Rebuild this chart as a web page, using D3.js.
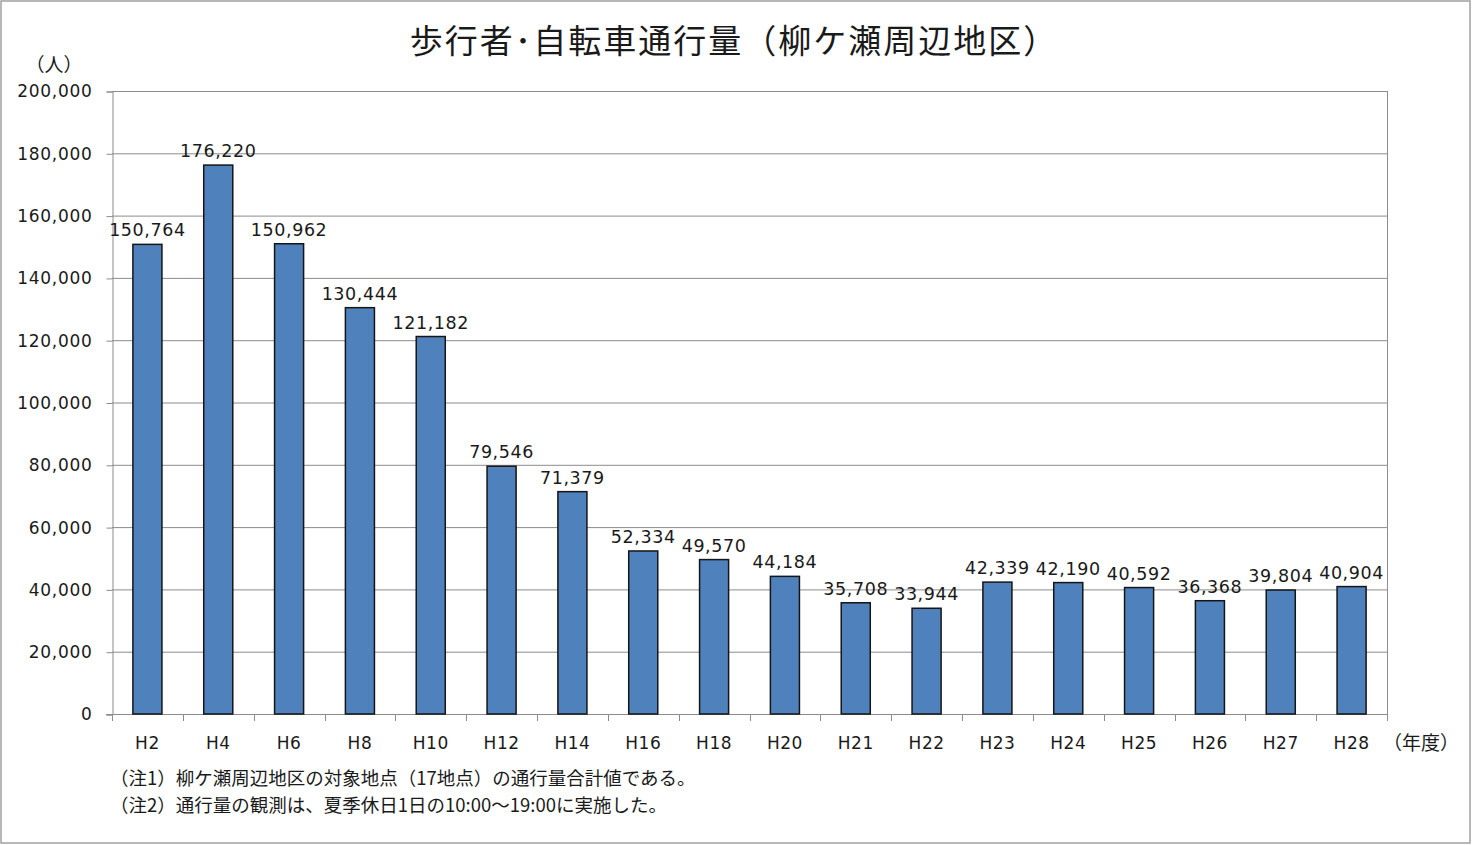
<!DOCTYPE html>
<html>
<head>
<meta charset="utf-8">
<script src="https://cdn.jsdelivr.net/npm/d3@7"></script>
<style>
  body { margin: 0; background: #fff; }
  svg text { font-family: "DejaVu Sans", Verdana, sans-serif; fill: #1a1a1a; }
  svg text.jp { font-family: "Noto Sans CJK JP", sans-serif; }
</style>
</head>
<body>
<svg id="chart" width="1472" height="845"></svg>
<script>
// data
let years = ["H2", "H4", "H6", "H8", "H10", "H12", "H14", "H16", "H18", "H20",
             "H21", "H22", "H23", "H24", "H25", "H26", "H27", "H28"];
let counts = [150764, 176220, 150962, 130444, 121182, 79546, 71379, 52334, 49570, 44184,
              35708, 33944, 42339, 42190, 40592, 36368, 39804, 40904];
let yTicks = [0, 20000, 40000, 60000, 80000, 100000, 120000, 140000, 160000, 180000, 200000];
let notes = ["（注1）柳ケ瀬周辺地区の対象地点（17地点）の通行量合計値である。",
             "（注2）通行量の観測は、夏季休日1日の10:00～19:00に実施した。"];

let svg = d3.select("#chart");
let margin = {left: 112, right: 1387, top: 91, bottom: 714};

// outer frame
svg.append("rect")
    .attr("x", 1).attr("y", 1)
    .attr("width", 1469).attr("height", 842)
    .attr("fill", "none")
    .attr("stroke", "#a0a0a0")
    .attr("stroke-width", 1.5);

let x = d3.scaleBand()
    .domain(years)
    .range([margin.left, margin.right])
    .paddingInner(0.59)
    .paddingOuter(0.295);

let y = d3.scaleLinear()
    .domain([0, 200000])
    .range([margin.bottom, margin.top]);

let fmt = d3.format(",");

// gridlines
svg.append("g")
    .selectAll("line")
    .data(yTicks.slice(1))
    .enter().append("line")
    .attr("x1", margin.left).attr("x2", margin.right)
    .attr("y1", d => y(d) + 0.5).attr("y2", d => y(d) + 0.5)
    .attr("stroke", "#8c8c8c");

// right edge of plot area
svg.append("line")
    .attr("x1", margin.right + 0.5).attr("x2", margin.right + 0.5)
    .attr("y1", margin.top).attr("y2", margin.bottom)
    .attr("stroke", "#8c8c8c");

// y axis
let yAxis = svg.append("g")
    .attr("transform", "translate(" + (margin.left + 0.5) + ",0.5)")
    .call(d3.axisLeft(y).tickValues(yTicks).tickFormat(fmt).tickSize(6).tickPadding(14));
yAxis.select(".domain").attr("stroke", "#8c8c8c");
yAxis.selectAll(".tick line").attr("stroke", "#8c8c8c");
yAxis.selectAll(".tick text")
    .attr("font-size", 17)
    .attr("letter-spacing", 0.7)
    .attr("font-family", "DejaVu Sans")
    .attr("fill", "#1a1a1a");

// x axis, ticks at category boundaries
let bounds = years.map(d => x(d) - x.step() * x.paddingInner() / 2);
bounds.push(margin.right);
svg.append("line")
    .attr("x1", margin.left - 6).attr("x2", margin.right)
    .attr("y1", margin.bottom + 0.5).attr("y2", margin.bottom + 0.5)
    .attr("stroke", "#8c8c8c");
svg.append("g")
    .selectAll("line")
    .data(bounds)
    .enter().append("line")
    .attr("x1", d => Math.round(d) + 0.5).attr("x2", d => Math.round(d) + 0.5)
    .attr("y1", margin.bottom).attr("y2", margin.bottom + 7)
    .attr("stroke", "#8c8c8c");

svg.append("g")
    .selectAll("text")
    .data(years)
    .enter().append("text")
    .attr("x", d => x(d) + x.bandwidth() / 2)
    .attr("y", 749)
    .attr("text-anchor", "middle")
    .attr("font-size", 17)
    .attr("letter-spacing", 0.5)
    .text(d => d);

// bars
svg.append("g")
    .selectAll("rect")
    .data(counts)
    .enter().append("rect")
    .attr("x", (d, i) => x(years[i]))
    .attr("y", d => y(d))
    .attr("width", x.bandwidth())
    .attr("height", d => y(0) - y(d))
    .attr("fill", "#4f81bd")
    .attr("stroke", "#151515")
    .attr("stroke-width", 1.5);

// value labels
svg.append("g")
    .selectAll("text")
    .data(counts)
    .enter().append("text")
    .attr("x", (d, i) => x(years[i]) + x.bandwidth() / 2)
    .attr("y", d => y(d) - 8)
    .attr("text-anchor", "middle")
    .attr("font-size", 17.5)
    .attr("letter-spacing", 0.6)
    .text(d => fmt(d));

// title
svg.append("text")
    .attr("class", "jp")
    .attr("x", 734)
    .attr("y", 53)
    .attr("text-anchor", "middle")
    .attr("font-size", 33)
    .attr("letter-spacing", 2)
    .text("歩行者･自転車通行量（柳ケ瀬周辺地区）");

// unit labels
svg.append("text")
    .attr("class", "jp")
    .attr("x", 54).attr("y", 72)
    .attr("text-anchor", "middle")
    .attr("font-size", 19)
    .text("（人）");
svg.append("text")
    .attr("class", "jp")
    .attr("x", 1383).attr("y", 750)
    .attr("font-size", 19)
    .text("（年度）");

// notes
svg.append("g")
    .selectAll("text")
    .data(notes)
    .enter().append("text")
    .attr("class", "jp")
    .attr("x", 110)
    .attr("y", (d, i) => 785 + i * 27)
    .attr("font-size", 18.5)
    .text(d => d);
</script>
</body>
</html>
